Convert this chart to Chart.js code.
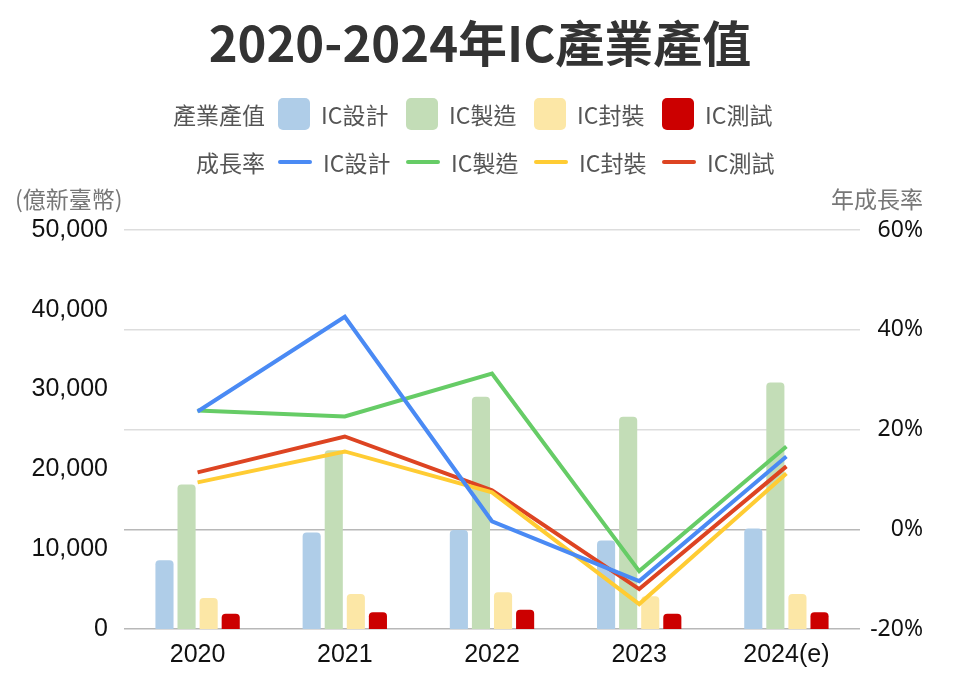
<!DOCTYPE html>
<html lang="zh-Hant">
<head>
<meta charset="utf-8">
<title>2020-2024年IC產業產值</title>
<script src="https://cdn.jsdelivr.net/npm/chart.js@4"></script>
<style>
  html, body { margin: 0; padding: 0; background: #fff; }
  #wrap {
    position: relative; width: 960px; height: 680px; overflow: hidden;
    font-family: "Noto Sans CJK TC", "Noto Sans", sans-serif;
  }
  #myChart { position: absolute; left: 0; top: 0; }
  h1 {
    position: absolute; left: 0; top: 11px; width: 960px; margin: 0;
    text-align: center; font-size: 49px; line-height: 60px; font-weight: 700; color: #333;
  }
  .legend-row {
    position: absolute; left: 0; height: 40px;
    display: flex; align-items: center; font-size: 23px; color: #555;
  }
  .row-title { width: 278px; padding-right: 13px; box-sizing: border-box; text-align: right; }
  .legend-item { width: 128px; display: flex; align-items: center; }
  .legend-item span { margin-left: 11px; white-space: nowrap; }
  .swatch-box { width: 32px; height: 32px; border-radius: 5px; }
  .swatch-line { width: 34px; height: 4px; border-radius: 2px; }
  .axis-title { position: absolute; top: 184px; font-size: 23px; line-height: 28px; color: #777; }
</style>
</head>
<body>
<div id="wrap">
  <canvas id="myChart" width="960" height="680"></canvas>
  <h1>2020-2024年IC產業產值</h1>
  <div class="legend-row" id="legendBars" style="top: 94px;"></div>
  <div class="legend-row" id="legendLines" style="top: 142px;"></div>
  <div class="axis-title" style="left: 15px;">(億新臺幣)</div>
  <div class="axis-title" style="left: 831px;">年成長率</div>
</div>
<script>
// data
const years = ["2020", "2021", "2022", "2023", "2024(e)"];
const seriesNames = ["IC設計", "IC製造", "IC封裝", "IC測試"];

// 產業產值 (億新臺幣)
const valueDesign = [8600, 12100, 12400, 11100, 12600];
const valueFab = [18100, 22400, 29100, 26600, 30900];
const valuePackage = [3900, 4400, 4600, 4100, 4400];
const valueTest = [1900, 2100, 2400, 1900, 2100];

// 年成長率 (%)
const growthDesign = [23.6, 42.6, 1.6, -10.4, 14.6];
const growthFab = [23.8, 22.6, 31.2, -8.4, 16.6];
const growthPackage = [9.4, 15.6, 7.4, -15, 11.2];
const growthTest = [11.4, 18.6, 7.8, -12, 12.6];

const barColors = ["#afcde8", "#c3ddb7", "#fce7a6", "#cc0000"];
const lineColors = ["#4a8af4", "#66cc66", "#ffcc33", "#dd4422"];

const values = [valueDesign, valueFab, valuePackage, valueTest];
const growths = [growthDesign, growthFab, growthPackage, growthTest];

const tickFont = { family: "'Liberation Sans', Arial, sans-serif", size: 25 };

const datasets = [];
growths.forEach((g, i) => {
  datasets.push({
    type: "line",
    label: "成長率 " + seriesNames[i],
    data: g,
    yAxisID: "yRate",
    borderColor: lineColors[i],
    backgroundColor: lineColors[i],
    borderWidth: 4,
    pointRadius: 0,
    tension: 0,
    fill: false,
    order: 0,
  });
});
values.forEach((v, i) => {
  datasets.push({
    type: "bar",
    label: "產業產值 " + seriesNames[i],
    data: v,
    yAxisID: "yValue",
    backgroundColor: barColors[i],
    borderRadius: { topLeft: 4, topRight: 4 },
    borderSkipped: "start",
    categoryPercentage: 0.6,
    barPercentage: 0.82,
    order: 1,
  });
});

const ctx = document.getElementById("myChart").getContext("2d");
const myChart = new Chart(ctx, {
  data: { labels: years, datasets: datasets },
  options: {
    responsive: false,
    animation: false,
    layout: { padding: { top: 230, right: 37, left: 0, bottom: 0 } },
    plugins: {
      legend: { display: false },
      title: { display: false },
      tooltip: { enabled: false },
    },
    scales: {
      x: {
        grid: { display: false },
        border: { display: false },
        ticks: { color: "#111", font: tickFont, padding: 3, maxRotation: 0 },
        afterFit: function (scale) {
          scale.height = 51;
        },
      },
      yValue: {
        position: "left",
        min: 0,
        max: 50000,
        grid: { display: false, drawTicks: false },
        border: { display: false },
        ticks: {
          stepSize: 10000,
          color: "#111",
          font: tickFont,
          padding: 16,
          callback: function (value) {
            return value.toLocaleString("en-US");
          },
        },
        afterFit: function (scale) {
          scale.width = 124;
        },
      },
      yRate: {
        position: "right",
        min: -20,
        max: 60,
        grid: {
          drawTicks: false,
          lineWidth: 1.5,
          color: function (c) {
            return c.tick && (c.tick.value === 0 || c.tick.value === -20) ? "#b8b8b8" : "#dddddd";
          },
        },
        border: { display: false },
        ticks: {
          stepSize: 20,
          color: "#111",
          crossAlign: "far",
          font: { family: "'Noto Sans', 'Open Sans', sans-serif", size: 23 },
          callback: function (value) {
            return value + "%";
          },
        },
        afterFit: function (scale) {
          scale.width = 63;
        },
      },
    },
  },
});

// legend rows built from the same arrays
function buildLegend(id, title, colors, kind) {
  const row = document.getElementById(id);
  const t = document.createElement("div");
  t.className = "row-title";
  t.textContent = title;
  row.appendChild(t);
  seriesNames.forEach((name, i) => {
    const item = document.createElement("div");
    item.className = "legend-item";
    const sw = document.createElement("div");
    sw.className = kind === "box" ? "swatch-box" : "swatch-line";
    sw.style.background = colors[i];
    const s = document.createElement("span");
    s.textContent = name;
    item.appendChild(sw);
    item.appendChild(s);
    row.appendChild(item);
  });
}
buildLegend("legendBars", "產業產值", barColors, "box");
buildLegend("legendLines", "成長率", lineColors, "line");
</script>
</body>
</html>
